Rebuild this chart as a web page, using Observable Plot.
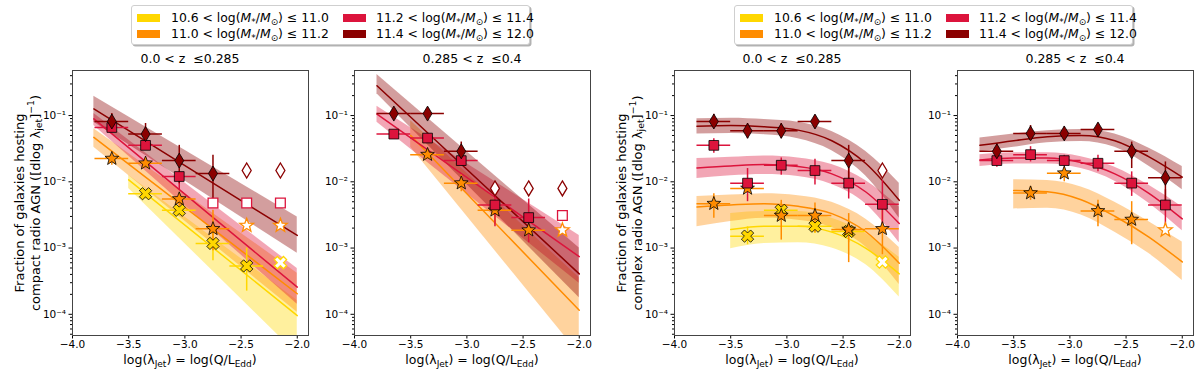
<!DOCTYPE html>
<html><head><meta charset="utf-8">
<script src="https://cdn.jsdelivr.net/npm/d3@7"></script>
<script src="https://cdn.jsdelivr.net/npm/@observablehq/plot@0.6"></script>
<style>
body{margin:0;background:#fff;}
#fig{position:relative;width:1200px;height:369px;font-family:"DejaVu Sans",sans-serif;color:#000;overflow:hidden;background:#fff;}
.legend{position:absolute;top:5px;height:38px;width:397px;border:1px solid #cfcfcf;border-radius:3px;background:#fff;box-shadow:1.5px 1.5px 0 rgba(0,0,0,0.3);font-size:12.4px;}
.sw{position:absolute;width:23px;height:8px;}
.lt{position:absolute;white-space:nowrap;line-height:14px;}
sub{font-size:0.72em;vertical-align:-0.3em;line-height:0;}
sup{font-size:0.72em;vertical-align:0.55em;line-height:0;}
.ttl{position:absolute;font-size:12.5px;white-space:nowrap;transform:translate(-50%,-50%);}
.ylab{position:absolute;font-size:13px;white-space:nowrap;transform:translate(-50%,-50%) rotate(-90deg);}
.xlab{position:absolute;font-size:12.5px;line-height:14px;white-space:nowrap;transform:translate(-50%,-50%);}
</style></head>
<body><div id="fig"></div>
<script>
// ---------- shared axis / category data ----------
const xCenters = [-3.65, -3.35, -3.05, -2.75, -2.45, -2.15];
const xHalfBin = 0.15;
const xTicks = [-4.0, -3.5, -3.0, -2.5, -2.0];
const yMajorTicks = [1e-4, 1e-3, 1e-2, 1e-1];
const yMinorMantissas = [2, 3, 4, 5, 6, 7, 8, 9];
const yMinorDecades = [1e-5, 1e-4, 1e-3, 1e-2, 1e-1];
const binLabels = [
  "10.6 &lt; log(<i>M</i><sub>*</sub>/<i>M</i><sub>⊙</sub>) ≤ 11.0",
  "11.0 &lt; log(<i>M</i><sub>*</sub>/<i>M</i><sub>⊙</sub>) ≤ 11.2",
  "11.2 &lt; log(<i>M</i><sub>*</sub>/<i>M</i><sub>⊙</sub>) ≤ 11.4",
  "11.4 &lt; log(<i>M</i><sub>*</sub>/<i>M</i><sub>⊙</sub>) ≤ 12.0"];
const binColors = ["#FFD700", "#FF8C00", "#DC143C", "#8B0000"];
const panelTitles = ["0.0 &lt; z &nbsp;≤0.285", "0.285 &lt; z &nbsp;≤0.4", "0.0 &lt; z &nbsp;≤0.285", "0.285 &lt; z &nbsp;≤0.4"];

// Panel A: compact, 0.0<z<=0.285
const A_yel_y  = [null, -2.18, -2.43, -2.93, -3.27, -3.22];
const A_yel_lo = [null, -2.26, -2.52, -3.19, -3.65, null];
const A_yel_hi = [null, -2.12, -2.35, -2.69, -3.00, null];
const A_yel_open = [0, 0, 0, 0, 0, 1];
const A_ora_y  = [-1.65, -1.72, -2.26, -2.71, -2.66, -2.66];
const A_ora_lo = [-1.75, -1.80, -2.37, -3.04, null, null];
const A_ora_hi = [-1.58, -1.64, -2.17, -2.43, null, null];
const A_ora_open = [0, 0, 0, 0, 1, 1];
const A_cri_y  = [-1.18, -1.45, -1.92, -2.32, -2.32, -2.32];
const A_cri_lo = [-1.22, -1.50, -2.12, null, null, null];
const A_cri_hi = [-1.13, -1.40, -1.85, null, null, null];
const A_cri_open = [0, 0, 0, 1, 1, 1];
const A_dre_y  = [-1.09, -1.28, -1.68, -1.875, -1.83, -1.83];
const A_dre_lo = [-1.20, -1.48, -2.03, -2.39, null, null];
const A_dre_hi = [-0.97, -1.12, -1.45, -1.60, null, null];
const A_dre_open = [0, 0, 0, 0, 1, 1];
// Panel B: compact, 0.285<z<=0.4
const B_ora_y  = [null, -1.59, -2.02, -2.43, -2.73, -2.73];
const B_ora_lo = [null, -1.66, -2.15, -2.65, -2.88, null];
const B_ora_hi = [null, -1.53, -1.90, -2.28, -2.60, null];
const B_ora_open = [0, 0, 0, 0, 0, 1];
const B_cri_y  = [-1.28, -1.34, -1.68, -2.35, -2.54, -2.51];
const B_cri_lo = [-1.31, -1.38, -1.74, -2.68, -2.92, null];
const B_cri_hi = [-1.25, -1.30, -1.62, -2.10, -2.26, null];
const B_cri_open = [0, 0, 0, 0, 0, 1];
const B_dre_y  = [-0.97, -0.97, -1.54, -2.10, -2.10, -2.10];
const B_dre_lo = [-1.00, -1.00, -1.66, null, null, null];
const B_dre_hi = [-0.94, -0.94, -1.40, null, null, null];
const B_dre_open = [0, 0, 0, 1, 1, 1];
// Panel C: complex, 0.0<z<=0.285
const C_yel_y  = [null, -2.82, -2.43, -2.67, -2.75, -3.21];
const C_yel_lo = [null, -2.95, -2.55, -2.78, -2.92, null];
const C_yel_hi = [null, -2.68, -2.32, -2.55, -2.60, null];
const C_yel_open = [0, 0, 0, 0, 0, 1];
const C_ora_y  = [-2.33, -2.10, -2.51, -2.51, -2.72, -2.71];
const C_ora_lo = [-2.55, -2.17, -2.88, -2.77, -3.22, -3.10];
const C_ora_hi = [-2.18, -2.05, -2.28, -2.32, -2.48, -2.32];
const C_ora_open = [0, 0, 0, 0, 0, 0];
const C_cri_y  = [-1.45, -2.02, -1.75, -1.83, -2.02, -2.34];
const C_cri_lo = [-1.57, -2.30, -1.90, -2.05, -2.26, -2.73];
const C_cri_hi = [-1.35, -1.80, -1.64, -1.66, -1.78, -1.98];
const C_cri_open = [0, 0, 0, 0, 0, 0];
const C_dre_y  = [-1.09, -1.23, -1.23, -1.09, -1.68, -1.83];
const C_dre_lo = [-1.18, -1.35, -1.35, -1.19, -2.00, null];
const C_dre_hi = [-0.98, -1.12, -1.12, -1.00, -1.45, null];
const C_dre_open = [0, 0, 0, 0, 0, 1];
// Panel D: complex, 0.285<z<=0.4
const D_ora_y  = [null, -2.17, -1.87, -2.44, -2.57, -2.73];
const D_ora_lo = [null, -2.28, -2.00, -2.68, -2.95, null];
const D_ora_hi = [null, -2.07, -1.78, -2.28, -2.30, null];
const D_ora_open = [0, 0, 0, 0, 0, 1];
const D_cri_y  = [-1.68, -1.59, -1.68, -1.72, -2.02, -2.35];
const D_cri_lo = [-1.78, -1.70, -1.77, -1.85, -2.22, -2.65];
const D_cri_hi = [-1.59, -1.47, -1.60, -1.60, -1.85, -2.12];
const D_cri_open = [0, 0, 0, 0, 0, 0];
const D_dre_y  = [-1.54, -1.27, -1.27, -1.21, -1.54, -1.94];
const D_dre_lo = [-1.68, -1.37, -1.36, -1.30, -1.80, -2.35];
const D_dre_hi = [-1.42, -1.15, -1.17, -1.12, -1.40, -1.70];
const D_dre_open = [0, 0, 0, 0, 0, 0];

const A_yel_fx = [-3.5, -2.0],  A_yel_f = [-1.97, -4.02], A_yel_flo = [-2.10, -4.60], A_yel_fhi = [-1.90, -3.79];
const A_ora_fx = [-3.81, -2.0], A_ora_f = [-1.33, -3.69], A_ora_flo = [-1.48, -3.97], A_ora_fhi = [-1.20, -3.38];
const A_cri_fx = [-3.81, -2.0], A_cri_f = [-1.05, -3.59], A_cri_flo = [-1.15, -3.85], A_cri_fhi = [-0.97, -3.31];
const A_dre_fx = [-3.81, -2.0], A_dre_f = [-0.90, -2.81], A_dre_flo = [-1.10, -3.08], A_dre_fhi = [-0.71, -2.53];

const B_ora_fx = [-3.5, -2.0], B_ora_f = [-1.30, -3.94], B_ora_flo = [-1.48, -4.60], B_ora_fhi = [-1.08, -3.45];
const B_cri_fx = [-3.8, -2.0], B_cri_f = [-0.98, -3.13], B_cri_flo = [-1.10, -3.53], B_cri_fhi = [-0.86, -2.81];
const B_dre_fx = [-3.8, -2.0], B_dre_f = [-0.55, -3.39], B_dre_flo = [-0.67, -3.75], B_dre_fhi = [-0.38, -3.00];

const C_fx7 = [-3.8, -3.5, -3.2, -2.9, -2.6, -2.3, -2.0];
const C_fx6 = [-3.5, -3.2, -2.9, -2.6, -2.3, -2.0];
const C_dre_f   = [-1.16, -1.15, -1.17, -1.22, -1.38, -1.72, -2.28];
const C_dre_fhi = [-1.05, -1.04, -1.06, -1.10, -1.24, -1.54, -2.02];
const C_dre_flo = [-1.28, -1.27, -1.29, -1.35, -1.53, -1.91, -2.55];
const C_cri_f   = [-1.79, -1.76, -1.74, -1.77, -1.88, -2.15, -2.63];
const C_cri_fhi = [-1.65, -1.63, -1.61, -1.64, -1.74, -1.98, -2.38];
const C_cri_flo = [-1.95, -1.91, -1.89, -1.92, -2.04, -2.33, -2.92];
const C_ora_f   = [-2.38, -2.35, -2.33, -2.37, -2.48, -2.75, -3.23];
const C_ora_fhi = [-2.22, -2.20, -2.18, -2.21, -2.31, -2.56, -2.99];
const C_ora_flo = [-2.68, -2.60, -2.55, -2.58, -2.69, -2.98, -3.55];
const C_yel_f   = [-2.72, -2.67, -2.67, -2.76, -3.00, -3.39];
const C_yel_fhi = [-2.48, -2.45, -2.45, -2.55, -2.78, -3.14];
const C_yel_flo = [-3.01, -2.93, -2.92, -3.00, -3.25, -3.74];

const D_fx7 = [-3.8, -3.5, -3.2, -2.9, -2.6, -2.3, -2.0];
const D_fx6 = [-3.5, -3.2, -2.9, -2.6, -2.3, -2.0];
const D_dre_f   = [-1.45, -1.38, -1.32, -1.30, -1.38, -1.62, -1.93];
const D_dre_fhi = [-1.34, -1.28, -1.23, -1.21, -1.28, -1.49, -1.77];
const D_dre_flo = [-1.55, -1.48, -1.41, -1.39, -1.48, -1.76, -2.12];
const D_cri_f   = [-1.67, -1.64, -1.64, -1.71, -1.88, -2.17, -2.56];
const D_cri_fhi = [-1.59, -1.56, -1.56, -1.62, -1.78, -2.05, -2.38];
const D_cri_flo = [-1.77, -1.73, -1.73, -1.80, -1.99, -2.32, -2.74];
const D_ora_f   = [-2.13, -2.15, -2.27, -2.52, -2.83, -3.21];
const D_ora_fhi = [-1.97, -1.98, -2.08, -2.31, -2.60, -2.91];
const D_ora_flo = [-2.41, -2.40, -2.50, -2.76, -3.08, -3.49];

// ---------- helpers ----------
const ex = v => (v == null ? null : Math.pow(10, v));
function pts(y, lo, hi, open) {
  const out = [];
  y.forEach((v, i) => { if (v == null) return;
    out.push({x: xCenters[i], y: ex(v), lo: ex(lo[i]), hi: ex(hi[i]), open: open[i] === 1}); });
  return out;
}
function fit(xs, y, lo, hi) { return xs.map((x, i) => ({x, y: ex(y[i]), lo: ex(lo[i]), hi: ex(hi[i])})); }

// marker shapes (matplotlib-like)
const symX = {draw(c, size) { const r = Math.sqrt(size / Math.PI), t = 0.34 * r, k = Math.SQRT1_2;
  const p = [[t,-r],[t,-t],[r,-t],[r,t],[t,t],[t,r],[-t,r],[-t,t],[-r,t],[-r,-t],[-t,-t],[-t,-r]];
  p.forEach(([x, y], i) => { const X = (x - y) * k, Y = (x + y) * k; i ? c.lineTo(X, Y) : c.moveTo(X, Y); }); c.closePath(); }};
const symStar = {draw(c, size) { const R = Math.sqrt(size / Math.PI), ri = 0.42 * R;
  for (let i = 0; i < 10; i++) { const a = -Math.PI / 2 + i * Math.PI / 5, rr = i % 2 ? ri : R;
    const X = rr * Math.cos(a), Y = rr * Math.sin(a); i ? c.lineTo(X, Y) : c.moveTo(X, Y); } c.closePath(); }};
const symSquare = {draw(c, size) { const h = 0.75 * Math.sqrt(size / Math.PI);
  c.moveTo(-h,-h); c.lineTo(h,-h); c.lineTo(h,h); c.lineTo(-h,h); c.closePath(); }};
const symDiamond = {draw(c, size) { const r = Math.sqrt(size / Math.PI), w = 0.6 * r;
  c.moveTo(0,-r); c.lineTo(w,0); c.lineTo(0,r); c.lineTo(-w,0); c.closePath(); }};
const binSymbols = [symX, symStar, symSquare, symDiamond];
const binR = [6.5, 7.2, 6.5, 7.5];

const panels = [
  {frameLeft: 72, yl: "compact", series: [
    {b: 0, p: pts(A_yel_y, A_yel_lo, A_yel_hi, A_yel_open), f: fit(A_yel_fx, A_yel_f, A_yel_flo, A_yel_fhi)},
    {b: 1, p: pts(A_ora_y, A_ora_lo, A_ora_hi, A_ora_open), f: fit(A_ora_fx, A_ora_f, A_ora_flo, A_ora_fhi)},
    {b: 2, p: pts(A_cri_y, A_cri_lo, A_cri_hi, A_cri_open), f: fit(A_cri_fx, A_cri_f, A_cri_flo, A_cri_fhi)},
    {b: 3, p: pts(A_dre_y, A_dre_lo, A_dre_hi, A_dre_open), f: fit(A_dre_fx, A_dre_f, A_dre_flo, A_dre_fhi)}]},
  {frameLeft: 354, series: [
    {b: 1, p: pts(B_ora_y, B_ora_lo, B_ora_hi, B_ora_open), f: fit(B_ora_fx, B_ora_f, B_ora_flo, B_ora_fhi)},
    {b: 2, p: pts(B_cri_y, B_cri_lo, B_cri_hi, B_cri_open), f: fit(B_cri_fx, B_cri_f, B_cri_flo, B_cri_fhi)},
    {b: 3, p: pts(B_dre_y, B_dre_lo, B_dre_hi, B_dre_open), f: fit(B_dre_fx, B_dre_f, B_dre_flo, B_dre_fhi)}]},
  {frameLeft: 674, yl: "complex", curve: "monotone-x", series: [
    {b: 0, p: pts(C_yel_y, C_yel_lo, C_yel_hi, C_yel_open), f: fit(C_fx6, C_yel_f, C_yel_flo, C_yel_fhi)},
    {b: 1, p: pts(C_ora_y, C_ora_lo, C_ora_hi, C_ora_open), f: fit(C_fx7, C_ora_f, C_ora_flo, C_ora_fhi)},
    {b: 2, p: pts(C_cri_y, C_cri_lo, C_cri_hi, C_cri_open), f: fit(C_fx7, C_cri_f, C_cri_flo, C_cri_fhi)},
    {b: 3, p: pts(C_dre_y, C_dre_lo, C_dre_hi, C_dre_open), f: fit(C_fx7, C_dre_f, C_dre_flo, C_dre_fhi)}]},
  {frameLeft: 957, curve: "monotone-x", series: [
    {b: 1, p: pts(D_ora_y, D_ora_lo, D_ora_hi, D_ora_open), f: fit(D_fx6, D_ora_f, D_ora_flo, D_ora_fhi)},
    {b: 2, p: pts(D_cri_y, D_cri_lo, D_cri_hi, D_cri_open), f: fit(D_fx7, D_cri_f, D_cri_flo, D_cri_fhi)},
    {b: 3, p: pts(D_dre_y, D_dre_lo, D_dre_hi, D_dre_open), f: fit(D_fx7, D_dre_f, D_dre_flo, D_dre_fhi)}]}
];

const yDomain = [Math.pow(10, -4.32), Math.pow(10, -0.32)];
const supMap = {"-": "⁻", "0": "⁰", "1": "¹", "2": "²", "3": "³", "4": "⁴", "5": "⁵", "6": "⁶", "7": "⁷", "8": "⁸", "9": "⁹"};
const yFmt = v => "10" + String(Math.round(Math.log10(v))).split("").map(ch => supMap[ch]).join("");
const xFmt = v => v.toFixed(1).replace("-", "−");
const yMinorTicks = [];
yMinorDecades.forEach(d => yMinorMantissas.forEach(m => { const t = m * d; if (t >= yDomain[0] && t <= yDomain[1]) yMinorTicks.push(t); }));

const fig = document.getElementById("fig");
function addDiv(cls, html, css) { const d = document.createElement("div"); d.className = cls; d.innerHTML = html; Object.assign(d.style, css); fig.appendChild(d); return d; }

const ML = 60, MR = 6, FW = 236;
panels.forEach((P, pi) => {
  const curve = P.curve || "linear";
  const marks = [];
  P.series.forEach(s => marks.push(Plot.areaY(s.f, {x: "x", y1: "lo", y2: "hi", fill: binColors[s.b], fillOpacity: 0.38, curve, clip: true})));
  P.series.forEach(s => marks.push(Plot.line(s.f, {x: "x", y: "y", stroke: binColors[s.b], strokeWidth: 1.5, curve, clip: true})));
  P.series.forEach(s => {
    const filled = s.p.filter(d => !d.open);
    marks.push(Plot.ruleX(filled, {x: "x", y1: "lo", y2: "hi", stroke: binColors[s.b], strokeWidth: 1.5}));
    marks.push(Plot.ruleY(filled, {y: "y", x1: d => d.x - xHalfBin, x2: d => d.x + xHalfBin, stroke: binColors[s.b], strokeWidth: 1.5}));
  });
  P.series.forEach(s => {
    const filled = s.p.filter(d => !d.open), open = s.p.filter(d => d.open);
    marks.push(Plot.dot(open, {x: "x", y: "y", symbol: binSymbols[s.b], r: binR[s.b], fill: "white", stroke: binColors[s.b], strokeWidth: 1.3}));
    marks.push(Plot.dot(filled, {x: "x", y: "y", symbol: binSymbols[s.b], r: binR[s.b], fill: binColors[s.b], stroke: "black", strokeWidth: 0.8}));
  });
  marks.push(Plot.axisX({ticks: xTicks, tickFormat: xFmt, tickSize: 3.5, tickPadding: 2, label: null, fontSize: 10.5}));
  marks.push(Plot.axisY({ticks: yMajorTicks, tickFormat: yFmt, tickSize: 3.5, tickPadding: 3, label: null, fontSize: 10.5}));
  marks.push(Plot.axisY({ticks: yMinorTicks, tickFormat: () => "", tickSize: 2, label: null}));
  marks.push(Plot.frame({stroke: "#444", strokeWidth: 1}));
  const svg = Plot.plot({
    width: ML + FW + MR, height: 369, marginLeft: ML, marginRight: MR, marginTop: 70, marginBottom: 34,
    x: {domain: [-4.0, -1.9], label: null},
    y: {type: "log", domain: yDomain, label: null},
    style: {fontFamily: "DejaVu Sans, sans-serif", fontSize: "10.5px", color: "#000", background: "transparent", overflow: "visible"},
    marks
  });
  svg.style.position = "absolute"; svg.style.left = (P.frameLeft - ML) + "px"; svg.style.top = "0px";
  fig.appendChild(svg);
  const cx = P.frameLeft + FW / 2;
  addDiv("ttl", panelTitles[pi], {left: cx + "px", top: "58px"});
  addDiv("xlab", "log(λ<sub>Jet</sub>) = log(Q/L<sub>Edd</sub>)", {left: cx + "px", top: "360px"});
  if (P.yl) {
    addDiv("ylab", "Fraction of galaxies hosting", {left: (P.frameLeft - 53) + "px", top: "203px"});
    addDiv("ylab", P.yl + " radio AGN ([dlog λ<sub>jet</sub>]<sup>−1</sup>)", {left: (P.frameLeft - 37) + "px", top: "203px"});
  }
});

// legends
[131, 734].forEach(L => {
  const box = addDiv("legend", "", {left: L + "px"});
  const colX = [[5, 39], [211, 244]];
  binLabels.forEach((lab, i) => {
    const col = i < 2 ? 0 : 1, row = i % 2;
    const sw = document.createElement("div"); sw.className = "sw";
    Object.assign(sw.style, {left: colX[col][0] + "px", top: (8 + row * 16) + "px", background: binColors[i]});
    box.appendChild(sw);
    const t = document.createElement("div"); t.className = "lt"; t.innerHTML = lab;
    Object.assign(t.style, {left: colX[col][1] + "px", top: (5 + row * 16) + "px"});
    box.appendChild(t);
  });
});
</script></body></html>
